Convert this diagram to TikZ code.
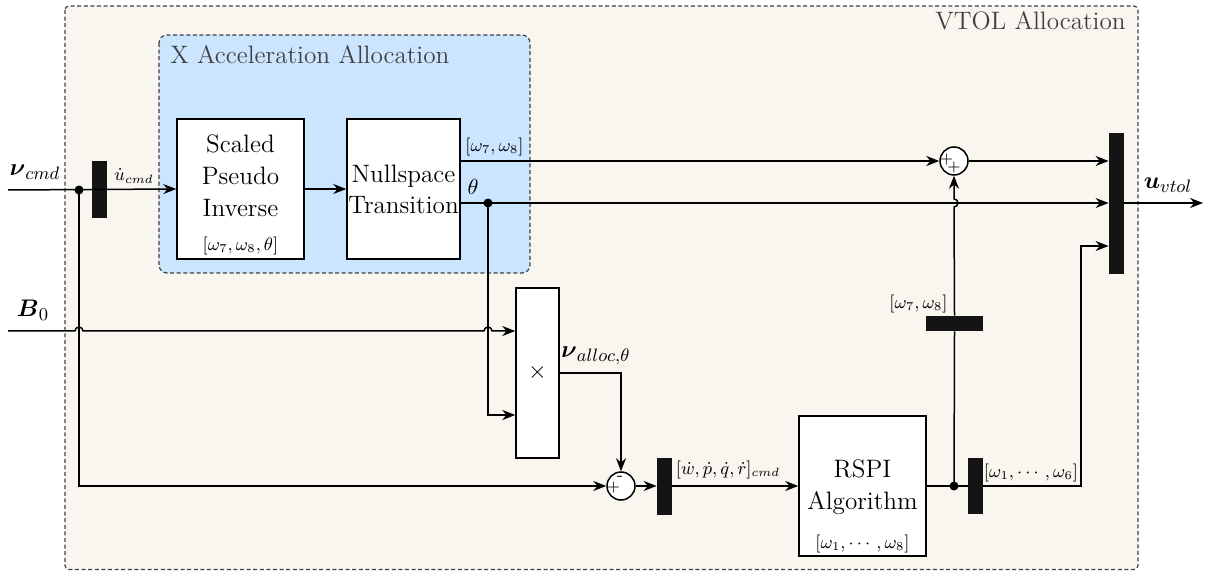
\documentclass[tikz,border=0pt]{standalone}
\usepackage{amsmath,amssymb}
\usetikzlibrary{arrows.meta,calc}
\definecolor{shellbg}{HTML}{F8F6EF}
\definecolor{groupbg}{HTML}{CCE5FF}
\definecolor{framegray}{HTML}{404040}
\tikzset{
  wire/.style={line width=0.75pt},
  arr/.style={wire,-{Stealth[length=6.5pt,width=5pt]}},
  blk/.style={draw=black,fill=white,line width=0.75pt,inner sep=0pt,align=center,
              font=\fontsize{12.6}{15.5}\selectfont},
  blktext/.style={inner sep=0pt,align=center,font=\fontsize{12.6}{16}\selectfont},
  bar/.style={fill=black!92,draw=none,inner sep=0pt},
  dot/.style={circle,fill=black,inner sep=0pt,minimum size=4.5pt},
  sumnode/.style={circle,draw=black,fill=white,line width=0.75pt,minimum size=14pt,inner sep=0pt},
  lbl/.style={inner sep=0pt,font=\fontsize{8.8}{10}\selectfont},
  sig/.style={inner sep=0pt,font=\fontsize{12.8}{14}\selectfont},
  sgn/.style={inner sep=0pt,font=\fontsize{8.5}{9}\selectfont},
  grouptitle/.style={inner sep=0pt,text=framegray,font=\fontsize{12.6}{14}\selectfont},
  frame/.style={draw=framegray,line width=0.6pt,dash pattern=on 2pt off 1.3pt},
}
\begin{document}
\begin{tikzpicture}[x=0.5pt,y=-0.5pt]
\useasboundingbox (0,0) rectangle (1209,571);

% group frames
\draw[frame,fill=shellbg,rounded corners=2pt] (65,6) rectangle (1138,569.5);
\node[grouptitle,anchor=east] (vtoltitle) at (1126,21) {VTOL Allocation};
\draw[frame,fill=groupbg,rounded corners=4pt] (159,35) rectangle (530,273);
\node[grouptitle,anchor=west] (xtitle) at (170,55) {X Acceleration Allocation};

% blocks
\node[blk,minimum width=63.5pt,minimum height=70pt] (spi) at (240.5,189) {};
\node[blktext] (spitext) at (240.5,176) {Scaled\\Pseudo\\Inverse};
\node[lbl] (spilbl) at (240.5,246) {$[\omega_7,\omega_8,\theta]$};
\node[blk,minimum width=56.5pt,minimum height=70pt] (nst) at (403.5,189) {Nullspace\\Transition};
\node[blk,minimum width=21.5pt,minimum height=85pt,font=\fontsize{12.5}{14}\selectfont] (mul) at (537.5,373) {$\times$};
\node[blk,minimum width=63.5pt,minimum height=70pt] (rspi) at (862.5,486) {};
\node[blktext] (rspitext) at (862.5,487) {RSPI\\Algorithm};
\node[lbl] (rspilbl) at (862.5,544) {$[\omega_1,\cdots,\omega_8]$};

% mux / demux bars
\node[bar,minimum width=7.5pt,minimum height=28.5pt] (mux1) at (99.5,190) {};
\node[bar,minimum width=7.5pt,minimum height=70.5pt] (mux2) at (1116.5,203.5) {};
\node[bar,minimum width=7.5pt,minimum height=28.5pt] (mux3) at (664.5,486) {};
\node[bar,minimum width=7.5pt,minimum height=28pt] (demux) at (975.5,486) {};
\node[bar,minimum width=28.5pt,minimum height=7.5pt] (sel) at (954.5,323.5) {};

% summing junctions
\node[sumnode] (s1) at (954,161) {};
\node[sgn] (s1a) at (946.5,159.5) {$+$};
\node[sgn] (s1b) at (954,168) {$+$};
\node[sumnode] (s2) at (621,486) {};
\node[sgn] (s2a) at (613.5,487) {$+$};
\node[sgn] (s2b) at (620,478) {-};

% branch points and free ends
\node[dot] (d1) at (79,190) {};
\node[dot] (d2) at (488,203) {};
\node[dot] (d3) at (954,486) {};
\coordinate (nuin) at (8,190);
\coordinate (bin) at (8,331);
\coordinate (uout) at (1203,203);
\coordinate (bend) at (1081,246);

% signal labels
\node[sig] (nucmd) at (35,172) {$\boldsymbol{\nu}_{cmd}$};
\node[lbl] (udot) at (134,176) {$\dot u_{cmd}$};
\node[sig] (b0) at (33,310) {$\boldsymbol{B}_0$};
\node[lbl] (w78a) at (494.5,147) {$[\omega_7,\omega_8]$};
\node[inner sep=0pt,font=\fontsize{10.5}{12}\selectfont] (th) at (473,187) {$\theta$};
\node[sig] (nualloc) at (596,356) {$\boldsymbol{\nu}_{alloc,\theta}$};
\node[lbl] (rates) at (728,470) {$[\dot w,\dot p,\dot q,\dot r]_{cmd}$};
\node[lbl] (w78b) at (918.5,304) {$[\omega_7,\omega_8]$};
\node[lbl] (w16) at (1031,473) {$[\omega_1,\cdots,\omega_6]$};
\node[sig] (uvtol) at (1168,185) {$\boldsymbol{u}_{vtol}$};

% wires
\draw[arr] (nuin) -- (spi.west);
\draw[arr] (spi.east) -- (nst.west);
\draw[arr] (nst.east |- s1) -- (s1.west);
\draw[arr] (s1.east) -- (mux2.west |- s1);
\draw[arr] (nst.east |- d2) -- (mux2.west |- d2);
\draw[arr] (mux2.east |- d2) -- (uout);
\draw[arr] (bin) -- ($(d1 |- bin)+(-4,0)$) arc[start angle=180,end angle=0,radius=2pt]
  -- ($(d2 |- bin)+(-4,0)$) arc[start angle=180,end angle=0,radius=2pt]
  -- (mul.west |- bin);
\draw[arr] (d2.center) |- ($(mul.west)+(0,42)$);
\draw[arr] (mul.east) -| (s2.north);
\draw[arr] (d1.center) |- (s2.west);
\draw[arr] (s2.east) -- (mux3.west);
\draw[arr] (mux3.east) -- (rspi.west);
\draw[wire] (rspi.east) -- (demux.west);
\draw[arr] (demux.east) -| (bend) -- (mux2.west |- bend);
\draw[wire] (d3.center) -- (sel.south);
\draw[arr] (sel.north) -- ($(s1 |- d2)+(0,4)$) arc[start angle=-90,end angle=90,radius=2pt]
  -- (s1.south);
\end{tikzpicture}
\end{document}
